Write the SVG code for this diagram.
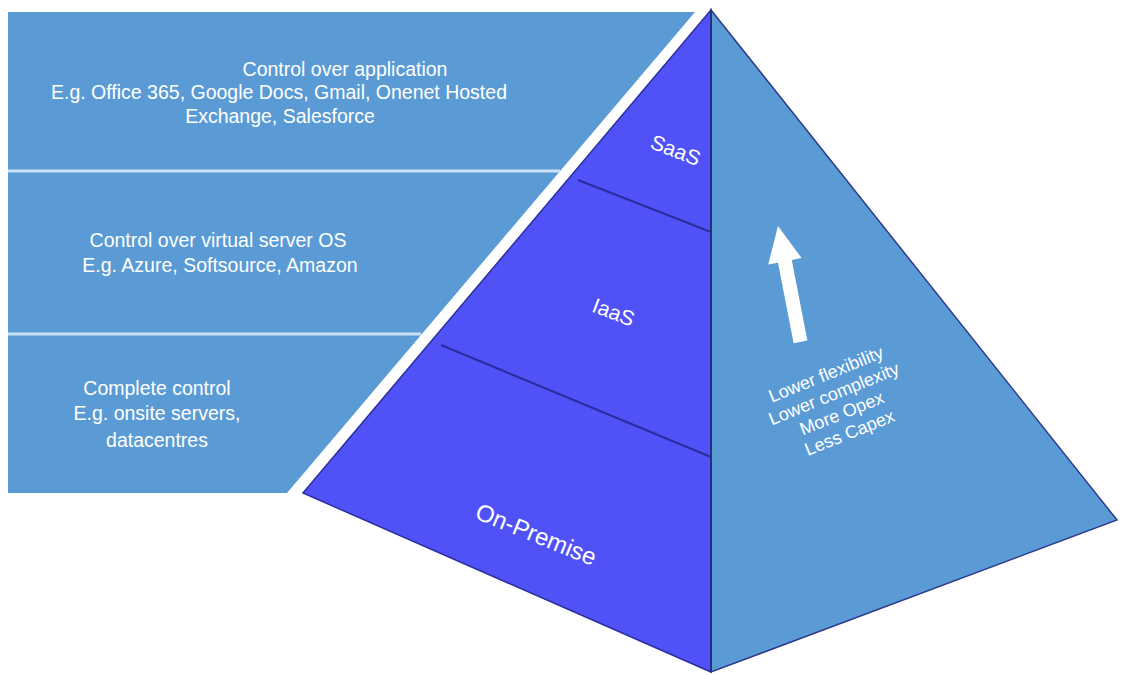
<svg xmlns="http://www.w3.org/2000/svg" width="1121" height="675" viewBox="0 0 1121 675">
<style>
.panel{fill:#5b9bd5}
.sep{stroke:#c9e0f5;stroke-width:3}
.t{font-family:"Liberation Sans",Arial,sans-serif;fill:#ffffff;text-anchor:middle}
.pt{font-size:19.5px}
.lf{fill:#5052f7;stroke:#2b2f9e;stroke-width:1.5}
.rf{fill:#5b9bd5;stroke:#2b3a8a;stroke-width:1.5}
.div{stroke:#2a2c9c;stroke-width:2}
.rt{font-size:18px}
</style>
<rect width="1121" height="675" fill="#ffffff"/>
<g id="panels">
<polygon class="panel" points="8,12 695,12 287,493 8,493"/>
<line class="sep" x1="8" y1="171" x2="560" y2="171"/>
<line class="sep" x1="8" y1="334" x2="421" y2="334"/>
</g>
<g id="panel-saas-text">
<text class="t pt" x="345" y="76">Control over application</text>
<text class="t pt" x="279" y="99">E.g. Office 365, Google Docs, Gmail, Onenet Hosted</text>
<text class="t pt" x="280" y="123">Exchange, Salesforce</text>
</g>
<g id="panel-iaas-text">
<text class="t pt" x="218" y="247">Control over virtual server OS</text>
<text class="t pt" x="220" y="272">E.g. Azure, Softsource, Amazon</text>
</g>
<g id="panel-onprem-text">
<text class="t pt" x="157" y="395">Complete control</text>
<text class="t pt" x="157" y="420">E.g. onsite servers,</text>
<text class="t pt" x="157" y="447">datacentres</text>
</g>
<g id="pyramid-left">
<polygon class="lf" points="711,10 303,493 711,672"/>
<line class="div" x1="578" y1="180" x2="711" y2="232"/>
<line class="div" x1="441" y1="345" x2="711" y2="457"/>
<text class="t" font-size="21" transform="translate(673,157) rotate(21)">SaaS</text>
<text class="t" font-size="21" transform="translate(611,319) rotate(21)">IaaS</text>
<text class="t" font-size="24" transform="translate(533,542) rotate(22)">On-Premise</text>
</g>
<g id="pyramid-right">
<polygon class="rf" points="711,10 1117,520 711,672"/>
<line x1="711" y1="10" x2="711" y2="672" stroke="#22307f" stroke-width="2"/>
<polygon fill="#ffffff" transform="translate(778,226) rotate(-11)" points="0,0 17,36 7,36 7,118 -7,118 -7,36 -17,36"/>
<g transform="translate(838,404) rotate(-22)">
<text class="t rt" x="0" y="-26">Lower flexibility</text>
<text class="t rt" x="0" y="-5">Lower complexity</text>
<text class="t rt" x="0" y="16">More Opex</text>
<text class="t rt" x="0" y="37">Less Capex</text>
</g>
</g>
</svg>
